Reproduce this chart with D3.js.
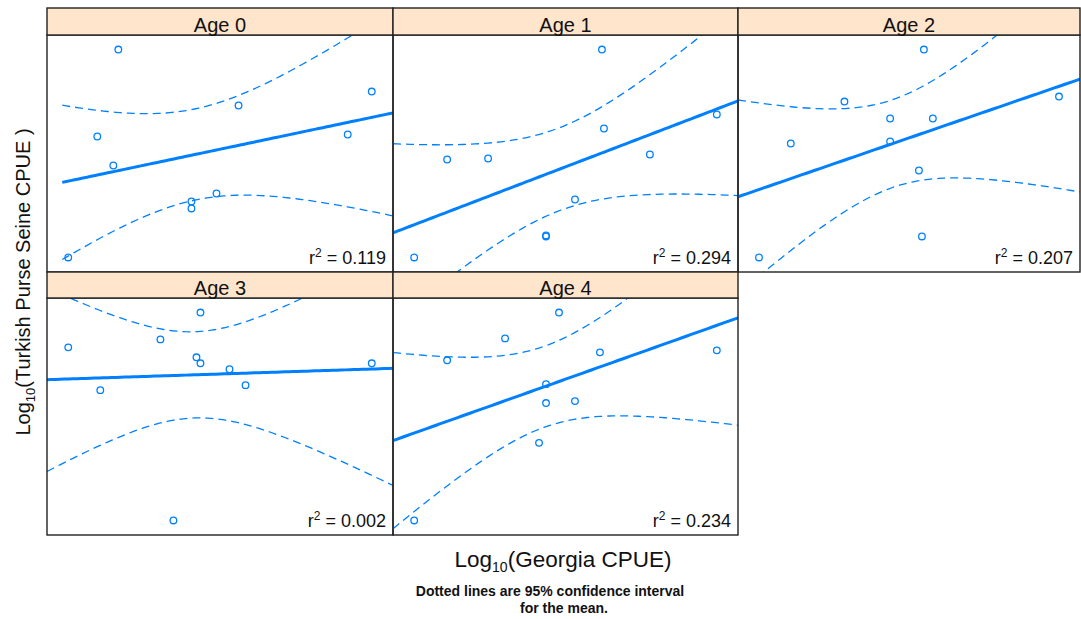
<!DOCTYPE html>
<html><head><meta charset="utf-8">
<script src="https://cdn.jsdelivr.net/npm/d3@7"></script>
<style>body{margin:0;background:#fff} text{font-family:"Liberation Sans",Arial,sans-serif;fill:#111}</style>
</head><body><svg id="c" width="1081" height="619"></svg>
<script>
// Panel names
const panelNames = ["Age 0", "Age 1", "Age 2", "Age 3", "Age 4"];
// Log10 Georgia CPUE / Log10 Turkish CPUE (arbitrary offset units)
const age0X = [0.72, 3.25, 1.92, 0.51, 3.01, 0.67, 1.45, 1.45, 1.70, 0.22];
const age0Y = [2.22, 1.80, 1.66, 1.35, 1.37, 1.06, 0.70, 0.63, 0.78, 0.14];
const age1X = [2.08, 2.10, 3.23, 0.53, 0.94, 2.56, 1.81, 1.52, 1.52, 0.20];
const age1Y = [2.22, 1.43, 1.57, 1.12, 1.13, 1.17, 0.72, 0.35, 0.36, 0.14];
const age2X = [1.86, 3.22, 1.06, 1.52, 1.95, 0.52, 1.52, 1.81, 1.84, 0.20];
const age2Y = [2.22, 1.75, 1.70, 1.53, 1.53, 1.28, 1.30, 1.01, 0.35, 0.14];
const age3X = [1.54, 1.14, 0.22, 1.50, 1.54, 1.83, 3.25, 0.54, 1.99, 1.27];
const age3Y = [2.23, 1.96, 1.88, 1.78, 1.72, 1.66, 1.72, 1.45, 1.50, 0.14];
const age4X = [1.65, 1.11, 0.53, 2.06, 3.23, 1.52, 1.52, 1.81, 1.45, 0.20];
const age4Y = [2.23, 1.97, 1.75, 1.83, 1.85, 1.51, 1.32, 1.34, 0.92, 0.14];
const r2Labels = ["0.119", "0.294", "0.207", "0.002", "0.234"];
const fitFrom = [0.16, null, null, null, null];
const xLabelMain = "Log", xLabelSub = "10", xLabelRest = "(Georgia CPUE)";
const yLabelMain = "Log", yLabelSub = "10", yLabelRest = "(Turkish Purse Seine CPUE )";
const noteLines = ["Dotted lines are 95% confidence interval", "for the mean."];

const xs = [age0X, age1X, age2X, age3X, age4X];
const ys = [age0Y, age1Y, age2Y, age3Y, age4Y];

const svg = d3.select("#c");
const blue = "#0080ff";
const colEdges = [47, 393, 738, 1080];
const rows = [{stripTop: 8, top: 35, bottom: 272}, {stripTop: 272, top: 298, bottom: 535}];
const tCrit = 2.306; // t(0.975, 8)

function pad(ext) { const r = ext[1] - ext[0]; return [ext[0] - 0.07 * r, ext[1] + 0.07 * r]; }

panelNames.forEach((name, i) => {
  const col = i % 3, row = Math.floor(i / 3);
  const L = colEdges[col], R = colEdges[col + 1];
  const rw = rows[row];
  const X = xs[i], Y = ys[i];
  const x = d3.scaleLinear().domain(pad(d3.extent(X))).range([L, R]);
  const y = d3.scaleLinear().domain(pad(d3.extent(Y))).range([rw.bottom, rw.top]);
  const g = svg.append("g");
  const cid = "clip" + i;
  g.append("clipPath").attr("id", cid).append("rect")
    .attr("x", L).attr("y", rw.top).attr("width", R - L).attr("height", rw.bottom - rw.top);

  // least-squares fit and 95% CI for the mean
  const n = X.length, mx = d3.mean(X), my = d3.mean(Y);
  let sxx = 0, sxy = 0, syy = 0;
  for (let k = 0; k < n; k++) { sxx += (X[k]-mx)**2; sxy += (X[k]-mx)*(Y[k]-my); syy += (Y[k]-my)**2; }
  const b = sxy / sxx, a = my - b * mx;
  const s = Math.sqrt((syy - sxy*sxy/sxx) / (n - 2));
  const x0 = fitFrom[i] != null ? fitFrom[i] : x.domain()[0];
  const x1 = x.domain()[1];
  const grid = d3.range(0, 81).map(k => x0 + (x1 - x0) * k / 80);
  const se = v => s * Math.sqrt(1/n + (v - mx)**2 / sxx);
  const line = d3.line().x(d => x(d[0])).y(d => y(d[1]));
  const pg = g.append("g").attr("clip-path", `url(#${cid})`);
  [1, -1].forEach(sg => {
    pg.append("path").attr("d", line(grid.map(v => [v, a + b*v + sg*tCrit*se(v)])))
      .attr("fill", "none").attr("stroke", blue).attr("stroke-width", 1.3).attr("stroke-dasharray", "8,5");
  });
  pg.append("path").attr("d", line(grid.map(v => [v, a + b*v])))
    .attr("fill", "none").attr("stroke", blue).attr("stroke-width", 3);
  pg.selectAll("circle").data(X.map((v, k) => [v, Y[k]])).join("circle")
    .attr("cx", d => x(d[0])).attr("cy", d => y(d[1])).attr("r", 3.3)
    .attr("fill", "none").attr("stroke", blue).attr("stroke-width", 1.3);

  // r2 label
  const t = g.append("text").attr("x", R - 7).attr("y", rw.bottom - 8.5).attr("text-anchor", "end").attr("font-size", 18);
  t.append("tspan").text("r");
  t.append("tspan").attr("dy", -7).attr("font-size", 12).text("2");
  t.append("tspan").attr("dy", 7).text(" = " + r2Labels[i]);

  // frame
  g.append("rect").attr("x", L).attr("y", rw.top).attr("width", R - L).attr("height", rw.bottom - rw.top)
    .attr("fill", "none").attr("stroke", "#222").attr("stroke-width", 1.4);
  // strip
  g.append("rect").attr("x", L).attr("y", rw.stripTop).attr("width", R - L).attr("height", rw.top - rw.stripTop)
    .attr("fill", "#ffe5cc").attr("stroke", "#222").attr("stroke-width", 1.4);
  g.append("text").attr("x", (L + R) / 2).attr("y", rw.top - 3).attr("text-anchor", "middle")
    .attr("font-size", 20).text(name);
});

// axis labels
const xl = svg.append("text").attr("x", 563).attr("y", 567).attr("text-anchor", "middle").attr("font-size", 22.5);
xl.append("tspan").text(xLabelMain);
xl.append("tspan").attr("dy", 5).attr("font-size", 14).text(xLabelSub);
xl.append("tspan").attr("dy", -5).text(xLabelRest);

const yl = svg.append("text").attr("transform", "translate(30,282) rotate(-90)").attr("text-anchor", "middle").attr("font-size", 20);
yl.append("tspan").text(yLabelMain);
yl.append("tspan").attr("dy", 5).attr("font-size", 13).text(yLabelSub);
yl.append("tspan").attr("dy", -5).text(yLabelRest);

svg.append("text").attr("x", 550).attr("y", 596).attr("text-anchor", "middle").attr("font-size", 14).attr("font-weight", "bold").text(noteLines[0]);
svg.append("text").attr("x", 564).attr("y", 613).attr("text-anchor", "middle").attr("font-size", 14).attr("font-weight", "bold").text(noteLines[1]);
</script></body></html>
